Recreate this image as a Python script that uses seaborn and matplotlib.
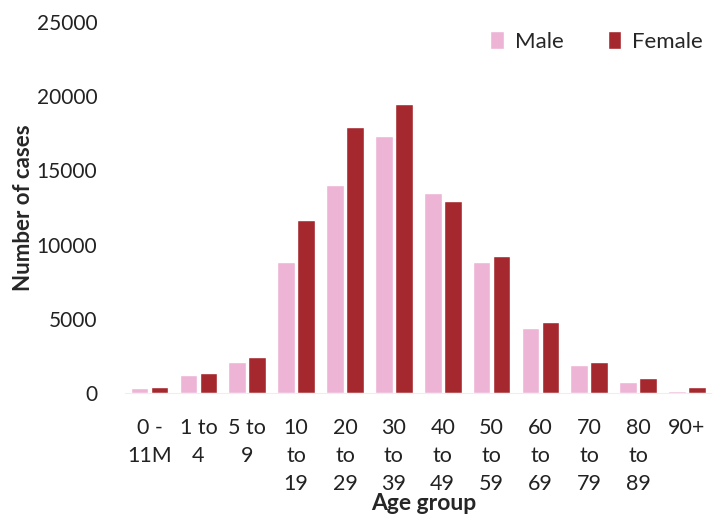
import matplotlib
matplotlib.use("Agg")
import matplotlib.pyplot as plt
import seaborn as sns
import pandas as pd

age_groups = ["0 -\n11M", "1 to\n4", "5 to\n9", "10\nto\n19", "20\nto\n29", "30\nto\n39",
              "40\nto\n49", "50\nto\n59", "60\nto\n69", "70\nto\n79", "80\nto\n89", "90+"]
male = [340, 1200, 2100, 8800, 14000, 17300, 13450, 8850, 4400, 1900, 750, 150]
female = [400, 1350, 2400, 11650, 17950, 19450, 12950, 9250, 4750, 2100, 1020, 420]

df = pd.DataFrame({
    "Age group": age_groups * 2,
    "cases": male + female,
    "sex": ["Male"] * len(male) + ["Female"] * len(female),
})

sns.set_style("white")
plt.rcParams["font.family"] = ["Lato", "DejaVu Sans"]

fig = plt.figure(figsize=(7.15, 5.15), dpi=100)
ax = fig.add_axes([0.175, 0.237, 0.82, 0.72])

sns.barplot(data=df, x="Age group", y="cases", hue="sex", ax=ax,
            palette={"Male": "#EDB4D6", "Female": "#A5282E"},
            width=0.82, gap=0.12, saturation=1)

ax.set_ylim(0, 25000)
ax.set_xlim(-0.5, 11.5)
ax.set_yticks(range(0, 25001, 5000))
ax.tick_params(axis="y", labelsize=15, labelcolor="#222222", length=0, pad=20)
ax.tick_params(axis="x", labelsize=15.5, labelcolor="#222222", length=0, pad=18)
for lbl in ax.get_xticklabels():
    lbl.set_verticalalignment("top")
    lbl.set_linespacing(1.5)

ax.set_ylabel("Number of cases", fontsize=16, fontweight="bold", labelpad=2)
ax.set_xlabel("Age group", fontsize=16.5, fontweight="bold")
ax.xaxis.set_label_coords(0.51, -0.316)
ax.xaxis.label.set_verticalalignment("baseline")

sns.despine(ax=ax, left=True, bottom=False)
ax.spines["bottom"].set_color("#eeeeee")

leg = ax.legend(loc="upper right", bbox_to_anchor=(1.02, 1.03), ncol=2, frameon=False,
                fontsize=16, handlelength=0.6, handleheight=0.9, columnspacing=2.0,
                handletextpad=0.5)

fig.savefig("out.png", dpi=100)
